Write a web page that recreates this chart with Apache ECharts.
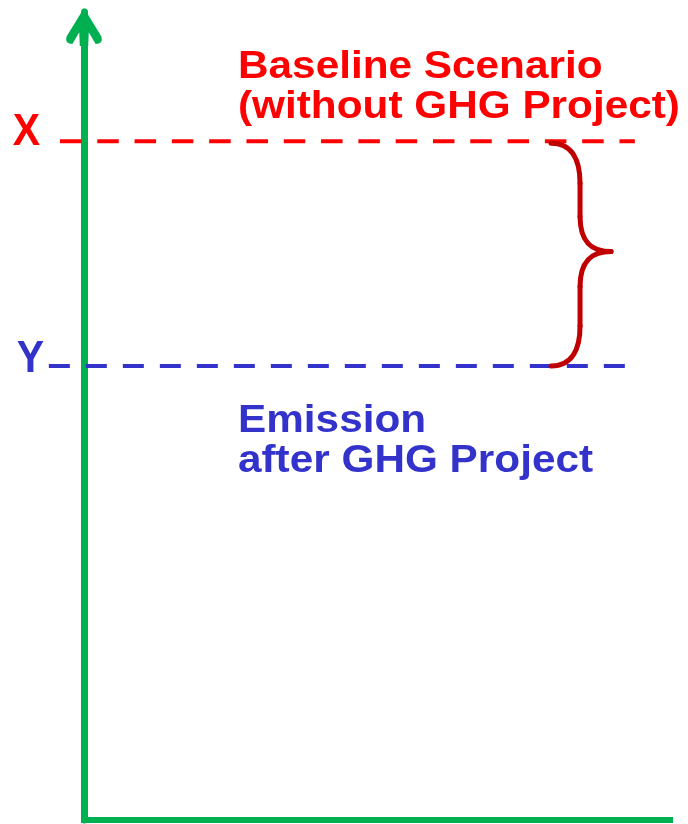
<!DOCTYPE html>
<html>
<head>
<meta charset="utf-8">
<script src="https://cdn.jsdelivr.net/npm/echarts@6/dist/echarts.min.js"></script>
<style>
html,body{margin:0;padding:0;background:#fff;}
#chart{width:688px;height:824px;}
</style>
</head>
<body>
<div id="chart"></div>
<script>
// ---- data ----
const levelLabels = ['X', 'Y'];
const levelValues = [84, 56.2];         // baseline (X), after project (Y)
const lineStartX = [-4.1, -6.0];
const lineEndX = [94.0, 93.2];
const braceX = 79.7;
const textBlocks = ['Baseline Scenario\n(without GHG Project)', 'Emission\nafter GHG Project'];

const RED = '#ff0000', BLUE = '#3333cc', GREEN = '#00b050', BRACE = '#c00000';
const FONT = '"Liberation Sans", Arial, sans-serif';

const chart = echarts.init(document.getElementById('chart'), null, {renderer: 'canvas'});

const arrowPath = 'path://M17 0 L33.5 27 Q35.5 34 28 34 L21.5 23 L21 36 L13 36 L12.5 23 L6 34 Q-1.5 34 0.5 27 Z';

// per-level styles
const levelStyles = [
  {color: RED, dash: [21.5, 15.8], lblDx: -33.5, lblDy: -8},
  {color: BLUE, dash: [21, 16], lblDx: -18.5, lblDy: -6}
];

const levelData = levelValues.map((v, i) => [lineStartX[i], lineEndX[i], v, i]);

const option = {
  animation: false,
  backgroundColor: '#fff',
  grid: {left: 84, right: 18, top: 12, bottom: 4, containLabel: false},
  xAxis: {
    type: 'value', min: 0, max: 100,
    axisLine: {show: true, lineStyle: {color: GREEN, width: 6, cap: 'square'}},
    axisTick: {show: false}, axisLabel: {show: false}, splitLine: {show: false}
  },
  yAxis: {
    type: 'value', min: 0, max: 100,
    axisLine: {show: true, symbol: ['none', arrowPath], symbolSize: [37, 38], symbolOffset: [0, -15],
               lineStyle: {color: GREEN, width: 7}},
    axisTick: {show: false}, axisLabel: {show: false}, splitLine: {show: false}
  },
  graphic: [
    {type: 'text', x: 238, y: 47.5, z: 10, scaleX: 1.085,
     style: {text: textBlocks[0], fill: RED, font: 'bold 39px ' + FONT, lineHeight: 40, verticalAlign: 'top'}},
    {type: 'text', x: 238, y: 401, z: 10, scaleX: 1.085,
     style: {text: textBlocks[1], fill: BLUE, font: 'bold 39px ' + FONT, lineHeight: 40, verticalAlign: 'top'}}
  ],
  series: [
    {
      type: 'custom',
      clip: false,
      silent: true,
      z: 3,
      data: levelData,
      renderItem: function (params, api) {
        const i = api.value(3);
        const s = levelStyles[i];
        const p1 = api.coord([api.value(0), api.value(2)]);
        const p2 = api.coord([api.value(1), api.value(2)]);
        return {
          type: 'group',
          children: [
            {type: 'line', shape: {x1: p1[0], y1: p1[1], x2: p2[0], y2: p2[1]},
             style: {stroke: s.color, lineWidth: 4, lineDash: s.dash, fill: null}},
            {type: 'text', x: p1[0] + s.lblDx, y: p1[1] + s.lblDy, scaleY: 1.06,
             style: {text: levelLabels[i], fill: s.color, font: 'bold 41px ' + FONT,
                     align: 'center', verticalAlign: 'middle'}}
          ]
        };
      }
    },
    {
      type: 'custom',
      clip: false,
      silent: true,
      z: 4,
      data: [[braceX, levelValues[0], levelValues[1]]],
      renderItem: function (params, api) {
        const t = api.coord([api.value(0), api.value(1)]);
        const b = api.coord([api.value(0), api.value(2)]);
        const x0 = t[0], yt = t[1] + 2, yb = b[1];
        const ym = (yt + yb) / 2 - 3;
        const st = {stroke: BRACE, lineWidth: 5, fill: null, lineCap: 'round'};
        return {
          type: 'group',
          children: [
            {type: 'bezierCurve', shape: {x1: x0, y1: yt, cpx1: x0 + 22, cpy1: yt, cpx2: x0 + 29, cpy2: yt + 18, x2: x0 + 29, y2: yt + 40}, style: st},
            {type: 'line', shape: {x1: x0 + 29, y1: yt + 40, x2: x0 + 29, y2: ym - 35}, style: st},
            {type: 'bezierCurve', shape: {x1: x0 + 29, y1: ym - 35, cpx1: x0 + 29, cpy1: ym - 8, cpx2: x0 + 42, cpy2: ym, x2: x0 + 60, y2: ym}, style: st},
            {type: 'bezierCurve', shape: {x1: x0 + 60, y1: ym, cpx1: x0 + 42, cpy1: ym, cpx2: x0 + 29, cpy2: ym + 8, x2: x0 + 29, y2: ym + 35}, style: st},
            {type: 'line', shape: {x1: x0 + 29, y1: ym + 35, x2: x0 + 29, y2: yb - 40}, style: st},
            {type: 'bezierCurve', shape: {x1: x0 + 29, y1: yb - 40, cpx1: x0 + 29, cpy1: yb - 18, cpx2: x0 + 22, cpy2: yb, x2: x0, y2: yb}, style: st}
          ]
        };
      }
    }
  ]
};
chart.setOption(option);
</script>
</body>
</html>
